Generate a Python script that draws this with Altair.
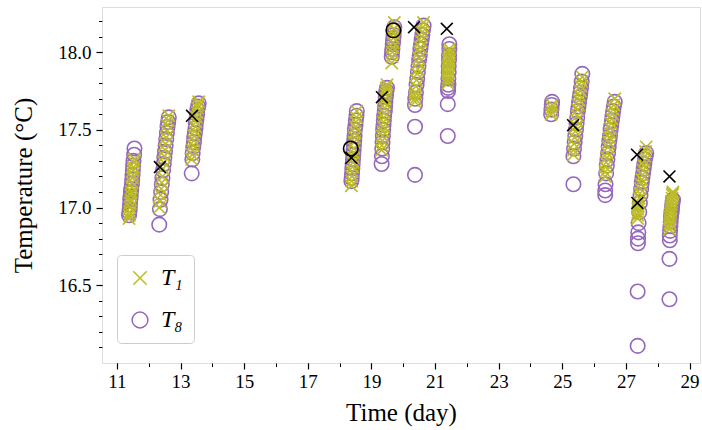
import altair as alt
import pandas as pd

FONT = "Liberation Serif"
OLIVE = "#bcbd22"
PURPLE = "#9467bd"
XPATH = "M-0.85,-0.85L0.85,0.85M-0.85,0.85L0.85,-0.85"
XPATH_BLACK = "M-0.8,-0.8L0.8,0.8M-0.8,0.8L0.8,-0.8"

c1_day = [11.38, 11.39, 11.40, 11.41, 11.42, 11.43, 11.44, 11.45, 11.47, 11.48, 11.49, 11.50, 11.51, 11.52, 11.54, 11.55]
c1_t1 = [16.93, 16.95, 16.97, 17.00, 17.03, 17.05, 17.08, 17.10, 17.13, 17.16, 17.19, 17.21, 17.24, 17.26, 17.29, 17.31]
c1_t8 = [16.95, 16.97, 16.99, 17.02, 17.05, 17.07, 17.10, 17.12, 17.15, 17.18, 17.21, 17.24, 17.27, 17.30, 17.34, 17.38]

c2_day = [12.33, 12.35, 12.37, 12.39, 12.41, 12.43, 12.45, 12.47, 12.49, 12.51, 12.53, 12.55, 12.57, 12.59, 12.61, 12.63]
c2_t1 = [17.00, 17.04, 17.08, 17.12, 17.16, 17.20, 17.25, 17.29, 17.33, 17.37, 17.41, 17.45, 17.49, 17.53, 17.56, 17.59]
c2_t8 = [16.89, 16.99, 17.05, 17.10, 17.15, 17.19, 17.24, 17.28, 17.32, 17.36, 17.40, 17.44, 17.48, 17.52, 17.55, 17.58]

c3_day = [13.35, 13.37, 13.38, 13.40, 13.42, 13.43, 13.45, 13.47, 13.48, 13.50, 13.52, 13.53, 13.55, 13.57]
c3_t1 = [17.31, 17.34, 17.37, 17.40, 17.43, 17.46, 17.49, 17.52, 17.55, 17.58, 17.61, 17.64, 17.66, 17.68]
c3_t8 = [17.22, 17.31, 17.35, 17.39, 17.42, 17.45, 17.48, 17.51, 17.54, 17.57, 17.60, 17.63, 17.65, 17.67]

c4_day = [18.37, 18.38, 18.39, 18.40, 18.41, 18.42, 18.43, 18.44, 18.45, 18.46, 18.47, 18.48, 18.50, 18.51, 18.53, 18.54]
c4_t1 = [17.14, 17.17, 17.20, 17.23, 17.26, 17.29, 17.32, 17.35, 17.38, 17.42, 17.45, 17.48, 17.52, 17.55, 17.58, 17.62]
c4_t8 = [17.17, 17.19, 17.22, 17.25, 17.28, 17.31, 17.34, 17.37, 17.40, 17.43, 17.46, 17.50, 17.53, 17.56, 17.59, 17.62]

c5_day = [19.32, 19.33, 19.34, 19.35, 19.36, 19.37, 19.38, 19.39, 19.40, 19.42, 19.43, 19.44, 19.45, 19.46, 19.47, 19.49]
c5_t1 = [17.37, 17.40, 17.43, 17.46, 17.49, 17.52, 17.55, 17.58, 17.61, 17.64, 17.67, 17.70, 17.73, 17.75, 17.77, 17.79]
c5_t8 = [17.28, 17.33, 17.38, 17.42, 17.46, 17.50, 17.53, 17.56, 17.59, 17.62, 17.65, 17.68, 17.71, 17.73, 17.75, 17.77]

c6_day = [19.64, 19.65, 19.66, 19.67, 19.68, 19.69, 19.70, 19.71, 19.72]
c6_t1 = [17.93, 17.97, 18.00, 18.03, 18.06, 18.09, 18.12, 18.15, 18.19]
c6_t8 = [17.97, 18.00, 18.02, 18.05, 18.07, 18.09, 18.11, 18.14, 18.16]

c7_day = [20.37, 20.37, 20.37, 20.38, 20.40, 20.42, 20.44, 20.46, 20.48, 20.50, 20.52, 20.54, 20.56, 20.58, 20.60, 20.62, 20.64]
c7_t1 = [17.68, 17.70, 17.72, 17.74, 17.78, 17.82, 17.86, 17.89, 17.93, 17.96, 18.00, 18.03, 18.07, 18.10, 18.13, 18.16, 18.19]
c7_t8 = [17.21, 17.52, 17.66, 17.70, 17.74, 17.79, 17.83, 17.87, 17.91, 17.95, 17.98, 18.02, 18.05, 18.08, 18.11, 18.14, 18.17]

c8_day = [21.40, 21.40, 21.41, 21.41, 21.42, 21.42, 21.43, 21.43, 21.44, 21.44, 21.45, 21.45]
c8_t1 = [17.80, 17.82, 17.84, 17.86, 17.88, 17.90, 17.92, 17.94, 17.96, 17.98, 18.00, 18.02]
c8_t8 = [17.46, 17.665, 17.75, 17.77, 17.79, 17.83, 17.87, 17.91, 17.95, 17.98, 18.02, 18.05]

c9_day = [24.65, 24.66, 24.67, 24.68]
c9_t1 = [17.60, 17.62, 17.64, 17.66]
c9_t8 = [17.60, 17.63, 17.66, 17.68]

c10_day = [25.35, 25.35, 25.37, 25.39, 25.41, 25.43, 25.45, 25.47, 25.49, 25.51, 25.53, 25.55, 25.57, 25.59, 25.61, 25.63]
c10_t1 = [17.34, 17.37, 17.41, 17.45, 17.49, 17.52, 17.56, 17.59, 17.63, 17.66, 17.69, 17.72, 17.75, 17.78, 17.81, 17.84]
c10_t8 = [17.15, 17.33, 17.38, 17.42, 17.46, 17.50, 17.54, 17.58, 17.62, 17.65, 17.68, 17.71, 17.74, 17.77, 17.81, 17.86]

c11_day = [26.35, 26.35, 26.36, 26.38, 26.40, 26.42, 26.44, 26.46, 26.48, 26.50, 26.52, 26.54, 26.56, 26.58, 26.60, 26.62, 26.65]
c11_t1 = [17.20, 17.23, 17.26, 17.29, 17.32, 17.35, 17.39, 17.42, 17.45, 17.48, 17.51, 17.54, 17.57, 17.60, 17.63, 17.66, 17.70]
c11_t8 = [17.08, 17.11, 17.15, 17.22, 17.27, 17.31, 17.35, 17.39, 17.43, 17.46, 17.50, 17.53, 17.56, 17.59, 17.62, 17.65, 17.68]

c12_day = [27.37, 27.37, 27.38, 27.38, 27.39, 27.40, 27.42, 27.44, 27.46, 27.48, 27.50, 27.52, 27.54, 27.56, 27.58, 27.60, 27.62, 27.64]
c12_t1 = [16.93, 16.95, 16.97, 16.99, 17.01, 17.03, 17.06, 17.09, 17.12, 17.15, 17.18, 17.21, 17.24, 17.27, 17.30, 17.33, 17.36, 17.39]
c12_t8 = [16.11, 16.46, 16.77, 16.80, 16.84, 16.90, 16.97, 17.03, 17.08, 17.12, 17.16, 17.19, 17.22, 17.25, 17.28, 17.31, 17.33, 17.35]

c13_day = [28.37, 28.37, 28.38, 28.38, 28.39, 28.40, 28.41, 28.42, 28.43, 28.44, 28.45, 28.46, 28.47, 28.48]
c13_t1 = [16.86, 16.88, 16.90, 16.92, 16.94, 16.96, 16.98, 17.00, 17.02, 17.04, 17.06, 17.08, 17.09, 17.10]
c13_t8 = [16.41, 16.67, 16.79, 16.82, 16.85, 16.88, 16.91, 16.94, 16.96, 16.98, 17.00, 17.02, 17.04, 17.05]

# highlighted points (black)
black_x_day = [12.35, 13.36, 18.37, 19.33, 20.34, 21.37, 25.34, 27.35, 27.36, 28.37]
black_x_t = [17.26, 17.59, 17.32, 17.71, 18.16, 18.15, 17.53, 17.34, 17.03, 17.20]
black_o_day = [18.35, 19.69]
black_o_t = [17.38, 18.14]

# axis ticks
x_major_ticks = [11, 13, 15, 17, 19, 21, 23, 25, 27, 29]
x_minor_ticks = list(range(11, 30))
y_major_ticks = [16.5, 17.0, 17.5, 18.0]
y_minor_ticks = [round(16.1 + 0.1 * i, 1) for i in range(22)]

clusters = [
    (c1_day, c1_t1, c1_t8), (c2_day, c2_t1, c2_t8), (c3_day, c3_t1, c3_t8),
    (c4_day, c4_t1, c4_t8), (c5_day, c5_t1, c5_t8), (c6_day, c6_t1, c6_t8),
    (c7_day, c7_t1, c7_t8), (c8_day, c8_t1, c8_t8), (c9_day, c9_t1, c9_t8),
    (c10_day, c10_t1, c10_t8), (c11_day, c11_t1, c11_t8), (c12_day, c12_t1, c12_t8),
    (c13_day, c13_t1, c13_t8),
]

rows = []
for days, t1, t8 in clusters:
    for d, v in zip(days, t8):
        rows.append({"day": d, "temp": v, "series": "T₈"})
for days, t1, t8 in clusters:
    for d, v in zip(days, t1):
        rows.append({"day": d, "temp": v, "series": "T₁"})
df = pd.DataFrame(rows)
df["order"] = range(len(df))

bx = pd.DataFrame({"day": black_x_day, "temp": black_x_t})
bo = pd.DataFrame({"day": black_o_day, "temp": black_o_t})

x_scale = alt.Scale(domain=[10.53, 29.33], nice=False, zero=False)
y_scale = alt.Scale(domain=[16.0, 18.29], nice=False, zero=False)

x_major = alt.Axis(values=x_major_ticks, title="Time (day)", format="d", tickSize=6, tickWidth=1.2,
                   tickColor="black", domain=False, grid=False, labelFont=FONT, labelFontSize=19,
                   labelColor="black", labelPadding=3, labelFlush=False, titleFont=FONT,
                   titleFontSize=25, titleFontWeight="normal", titleColor="black",
                   titleY=57, titleBaseline="alphabetic", orient="bottom")
y_major = alt.Axis(values=y_major_ticks, title="Temperature (°C)", format=".1f", tickSize=6,
                   tickWidth=1.2, tickColor="black", domain=False, grid=False, labelFont=FONT,
                   labelFontSize=19, labelColor="black", labelPadding=5, labelFlush=False,
                   titleFont=FONT, titleFontSize=25, titleFontWeight="normal", titleColor="black",
                   titleX=-71, titleBaseline="alphabetic", orient="left")
x_minor = alt.Axis(values=x_minor_ticks, labels=False, title=None, tickSize=3.5, tickWidth=1,
                   tickColor="black", domain=False, grid=False, orient="bottom")
y_minor = alt.Axis(values=y_minor_ticks, labels=False, title=None, tickSize=3.5, tickWidth=1,
                   tickColor="black", domain=False, grid=False, orient="left")

legend = alt.Legend(title=None, orient="none", legendX=15, legendY=248, fillColor="white",
                    strokeColor="#cccccc", cornerRadius=4, padding=11, symbolSize=250,
                    symbolStrokeWidth=1.5, labelFont=FONT, labelFontSize=24,
                    labelFontStyle="italic", labelColor="black", rowPadding=18, labelOffset=9)

points = alt.Chart(df).mark_point(filled=False, size=210, strokeWidth=1.6, opacity=1).encode(
    x=alt.X("day:Q", scale=x_scale, axis=x_major),
    y=alt.Y("temp:Q", scale=y_scale, axis=y_major),
    color=alt.Color("series:N", scale=alt.Scale(domain=["T₁", "T₈"], range=[OLIVE, PURPLE]), legend=legend),
    shape=alt.Shape("series:N", scale=alt.Scale(domain=["T₁", "T₈"], range=[XPATH, "circle"]), legend=legend),
    order=alt.Order("order:Q"),
)

minor = alt.Chart(bx).mark_point(opacity=0).encode(
    x=alt.X("day:Q", scale=x_scale, axis=x_minor),
    y=alt.Y("temp:Q", scale=y_scale, axis=y_minor),
)

black_x = alt.Chart(bx).mark_point(shape=XPATH_BLACK, size=220, color="black", strokeWidth=1.6,
                                   filled=False, opacity=1).encode(
    x=alt.X("day:Q", scale=x_scale, axis=None),
    y=alt.Y("temp:Q", scale=y_scale, axis=None),
)
black_o = alt.Chart(bo).mark_point(shape="circle", size=210, color="black", strokeWidth=1.6,
                                   filled=False, opacity=1).encode(
    x=alt.X("day:Q", scale=x_scale, axis=None),
    y=alt.Y("temp:Q", scale=y_scale, axis=None),
)

chart = alt.layer(points, minor, black_x, black_o).resolve_axis(
    x="independent", y="independent"
).properties(
    width=598, height=356,
    autosize=alt.AutoSizeParams(type="none"),
    padding={"left": 102, "top": 7, "right": 2, "bottom": 67},
).configure_view(
    stroke="black", strokeWidth=1.5
).configure(background="white")

chart.save("out.html", embed_options={"renderer": "svg", "actions": False})
